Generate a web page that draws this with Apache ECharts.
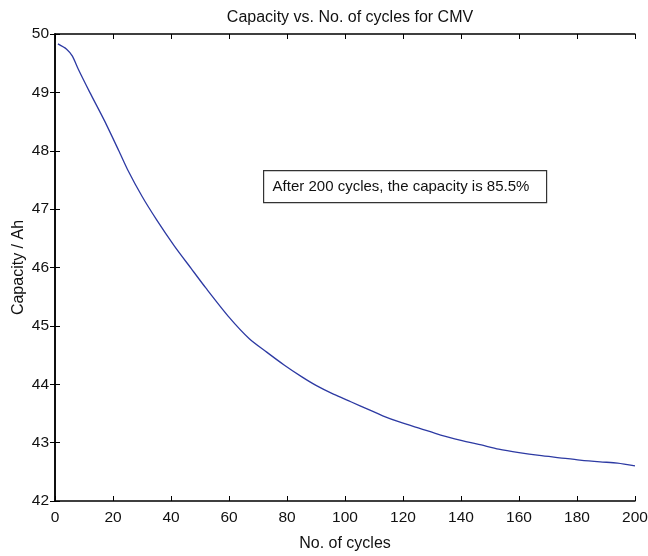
<!DOCTYPE html>
<html>
<head>
<meta charset="utf-8">
<script src="https://cdn.jsdelivr.net/npm/echarts@6/dist/echarts.min.js"></script>
<style>html,body{margin:0;padding:0;background:#fff;}#c{width:648px;height:556px;}</style>
</head>
<body>
<div id="c"></div>
<script>
const cycles = [1,4,6,8,12,17,22,25,30,35,41,47,52,60,67,73,79,85,90,96,102,108,113,119,126,133,140,147,153,160,167,174,181,188,194,200];
const capacity = [49.83,49.74,49.62,49.40,49.00,48.52,48.00,47.68,47.22,46.82,46.38,45.98,45.65,45.15,44.78,44.55,44.33,44.13,43.98,43.83,43.70,43.57,43.46,43.35,43.24,43.13,43.04,42.96,42.89,42.83,42.78,42.74,42.70,42.67,42.65,42.60];
const titleText = 'Capacity vs. No. of cycles for CMV';
const xName = 'No. of cycles';
const yName = 'Capacity / Ah';
const note = 'After 200 cycles, the capacity is 85.5%';

const font = 'Liberation Sans, Arial, sans-serif';
const chart = echarts.init(document.getElementById('c'));
const axCommon = {
  axisLine: {show: true, lineStyle: {color: '#000', width: 1.5}},
  axisTick: {show: true, inside: true, length: 5, lineStyle: {color: '#000', width: 1}},
  splitLine: {show: false}
};
chart.setOption({
  animation: false,
  backgroundColor: '#fff',
  title: {text: titleText, left: 345, top: 5, textAlign: 'center',
    textStyle: {fontFamily: font, fontSize: 16, fontWeight: 'normal', color: '#111'}},
  grid: {left: 55, top: 34, right: 13, bottom: 55, outerBoundsMode: 'none', containLabel: false},
  xAxis: [
    Object.assign({type: 'value', min: 0, max: 200, interval: 20, position: 'bottom',
      name: xName, nameLocation: 'middle', nameGap: 35, nameMoveOverlap: false,
      nameTextStyle: {fontFamily: font, fontSize: 16, color: '#111'},
      axisLabel: {fontFamily: font, fontSize: 15.5, color: '#111', margin: 9}}, axCommon),
    Object.assign({type: 'value', min: 0, max: 200, interval: 20, position: 'top',
      axisLabel: {show: false}}, axCommon)
  ],
  yAxis: [
    Object.assign({type: 'value', min: 42, max: 50, interval: 1, position: 'left',
      name: yName, nameLocation: 'middle', nameGap: 28, nameRotate: 90, nameMoveOverlap: false,
      nameTextStyle: {fontFamily: font, fontSize: 16, color: '#111'},
      axisLabel: {fontFamily: font, fontSize: 15.5, color: '#111', margin: 6}}, axCommon),
    Object.assign({type: 'value', min: 42, max: 50, interval: 1, position: 'right',
      axisLabel: {show: false}}, axCommon)
  ],
  series: [{
    type: 'line',
    data: cycles.map((c, i) => [c, capacity[i]]),
    showSymbol: false,
    smooth: 0.25,
    lineStyle: {color: '#2d3aa3', width: 1.3}
  }],
  graphic: [{
    type: 'group', left: 263, top: 170,
    children: [
      {type: 'rect', shape: {x: 0, y: 0, width: 283, height: 32},
        style: {fill: '#fff', stroke: '#333', lineWidth: 1.2}},
      {type: 'text', x: 9, y: 16,
        style: {text: note, font: '15px Liberation Sans, Arial, sans-serif', fill: '#111', textVerticalAlign: 'middle'}}
    ]
  }]
});
</script>
</body>
</html>
